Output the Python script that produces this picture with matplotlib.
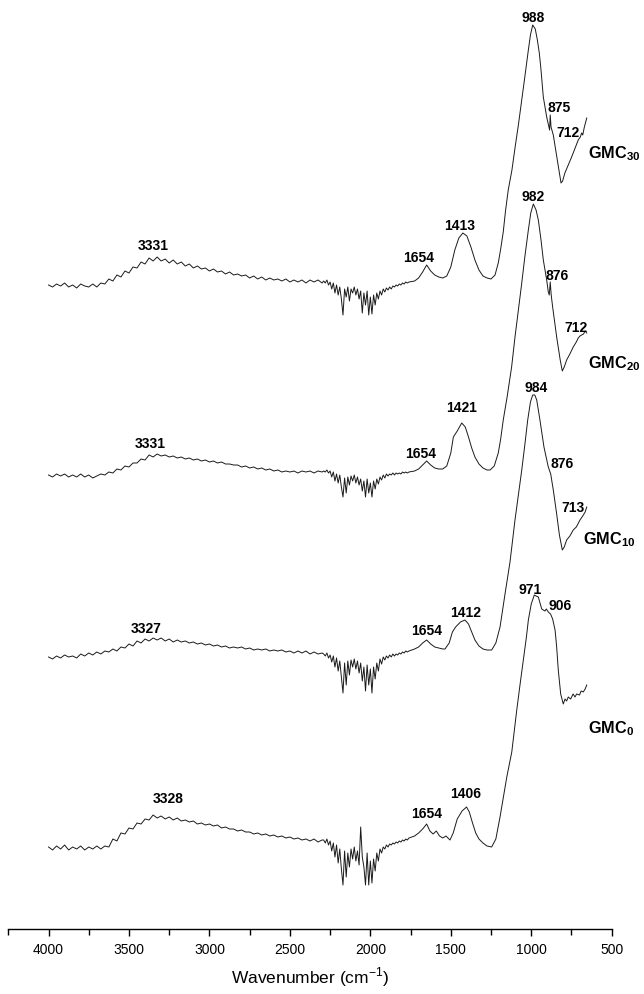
import numpy as np
import matplotlib.pyplot as plt

plt.rcParams['font.family'] = ['Liberation Sans', 'DejaVu Sans']
plt.rcParams['mathtext.fontset'] = 'custom'
plt.rcParams['mathtext.rm'] = 'Liberation Sans'
plt.rcParams['mathtext.bf'] = 'Liberation Sans:bold'

# wavenumber grids (cm-1) shared by all samples
wn_left = np.arange(4000, 2299, -25)   # broad O-H region
wn_dip = np.arange(2290, 1759, -10)    # noisy CO2 / diamond region

# GMC30 (values relative to its own baseline)
gmc30_left = [0, -2, 1, -1, 2, -2, 0, -3, 1, -1,
              -2, 1, -2, 2, 1, 6, 4, 10, 8, 14,
              12, 18, 17, 23, 21, 27, 24, 28, 24, 26,
              22, 25, 21, 23, 19, 21, 17, 19, 16, 17,
              14, 16, 13, 14, 11, 13, 10, 11, 9, 10,
              7, 9, 6, 8, 5, 7, 5, 6, 4, 6,
              3, 5, 3, 5, 2, 5, 3, 5, 2]
gmc30_dip = [4, 2, 5, 0, 3, -4, 2, -8, 0, -10,
             -2, -14, -30, -4, -12, -2, -16, -4, -8, -2,
             -10, -4, -14, -6, -28, -8, -20, -6, -30, -12,
             -29, -10, -20, -8, -14, -6, -10, -4, -7, -3,
             -5, -2, -4, -1, -2, 0, -1, 1, 0, 2,
             1, 3, 2, 3]
gmc30_wn = [1725, 1700, 1675, 1650, 1625, 1600, 1575, 1550, 1525, 1500,
            1475, 1450, 1425, 1400, 1375, 1350, 1325, 1300, 1275, 1250,
            1225, 1205, 1190, 1174, 1160, 1143, 1120, 1101, 1080, 1059,
            1040, 1018, 1005, 991, 975, 962, 950, 941, 925, 904,
            890, 886, 882, 877, 863, 838, 815, 805, 791, 770,
            749, 730, 708, 695, 687, 680, 670, 662, 655]
gmc30_right = [4, 7, 13, 20, 14, 10, 8, 7, 9, 18,
               35, 47, 52, 49, 38, 25, 15, 9, 7, 6,
               10, 22, 36, 53, 74, 95, 115, 137, 160, 185,
               208, 235, 250, 260, 256, 245, 232, 218, 188, 168,
               158, 155, 170, 158, 150, 125, 102, 104, 112, 120,
               128, 136, 145, 148, 152, 150, 158, 163, 167]

# GMC20
gmc20_left = [0, -2, 1, -1, 1, -2, 0, -2, 1, -2,
              0, -3, -1, 1, 0, 3, 2, 6, 5, 9,
              8, 12, 12, 16, 15, 20, 18, 21, 19, 20,
              18, 19, 17, 18, 16, 17, 15, 16, 14, 15,
              13, 14, 12, 13, 11, 11, 10, 10, 8, 9,
              7, 8, 6, 7, 5, 6, 4, 5, 3, 4,
              3, 4, 2, 4, 3, 4, 2, 4, 3]
gmc20_dip = [4, 3, 5, 2, 4, -2, 3, -6, 1, -8,
             0, -12, -22, -3, -18, -2, -10, -1, -6, 0,
             -8, -2, -10, -4, -16, -6, -22, -4, -18, -8,
             -22, -6, -14, -4, -9, -2, -5, 0, -3, 1,
             -1, 1, 0, 2, 0, 2, 1, 2, 1, 3,
             2, 3, 2, 3]
gmc20_wn = [1725, 1700, 1675, 1650, 1625, 1600, 1575, 1550, 1525, 1500,
            1484, 1460, 1432, 1410, 1390, 1370, 1350, 1325, 1300, 1275,
            1256, 1230, 1205, 1190, 1174, 1150, 1122, 1101, 1080, 1059,
            1040, 1018, 1003, 987, 970, 956, 940, 925, 904, 894,
            888, 882, 876, 867, 842, 820, 807, 795, 780, 760,
            739, 720, 708, 697, 687, 675, 665, 655]
gmc20_right = [4, 6, 10, 14, 10, 7, 6, 6, 9, 22,
               38, 44, 52, 48, 38, 27, 18, 11, 7, 5,
               5, 9, 22, 36, 55, 78, 108, 138, 165, 192,
               218, 245, 262, 271, 265, 255, 236, 215, 195, 183,
               180, 193, 180, 168, 138, 115, 104, 108, 115, 121,
               128, 133, 137, 139, 140, 141, 144, 142]

# GMC10
gmc10_left = [0, -2, 1, -1, 2, 0, 1, -1, 3, 1,
              4, 2, 5, 3, 6, 5, 8, 6, 10, 9,
              13, 11, 16, 14, 18, 16, 19, 17, 19, 16,
              18, 15, 17, 15, 16, 14, 15, 13, 14, 12,
              13, 11, 12, 10, 11, 9, 10, 9, 10, 8,
              9, 7, 8, 7, 8, 6, 7, 6, 7, 5,
              6, 4, 6, 4, 6, 3, 5, 3, 4]
gmc10_dip = [3, 1, 4, -1, 2, -5, 1, -10, -1, -14,
             -4, -20, -36, -6, -28, -4, -18, -3, -10, -2,
             -12, -4, -16, -6, -24, -10, -34, -8, -28, -12,
             -36, -10, -22, -6, -14, -2, -7, 0, -3, 1,
             -1, 2, 0, 3, 1, 3, 2, 4, 3, 5,
             4, 6, 5, 6]
gmc10_wn = [1725, 1700, 1675, 1650, 1625, 1600, 1575, 1550, 1536, 1510,
            1490, 1470, 1440, 1412, 1390, 1370, 1350, 1325, 1300, 1275,
            1246, 1220, 1194, 1163, 1132, 1101, 1080, 1059, 1040, 1022,
            1005, 991, 978, 966, 946, 921, 894, 879, 863, 842,
            825, 807, 795, 780, 760, 739, 720, 697, 680, 665,
            655]
gmc10_right = [8, 10, 14, 17, 13, 10, 9, 8, 8, 14,
               25, 30, 35, 37, 33, 25, 17, 11, 8, 7,
               7, 14, 30, 63, 95, 137, 162, 187, 212, 237,
               255, 262, 262, 257, 237, 210, 190, 183, 167, 143,
               122, 107, 110, 117, 121, 127, 130, 137, 141, 145,
               150]

# GMC0
gmc0_left = [0, -3, 1, -2, 2, -3, 0, -2, 1, -3,
             0, -2, 1, -2, 1, 0, 8, 6, 14, 13,
             19, 18, 24, 23, 28, 27, 32, 29, 31, 28,
             30, 27, 29, 26, 27, 25, 26, 23, 24, 22,
             23, 21, 22, 19, 20, 18, 18, 16, 17, 15,
             15, 13, 14, 12, 13, 11, 12, 10, 11, 9,
             10, 8, 9, 7, 8, 6, 8, 5, 7]
gmc0_dip = [7, 4, 8, 2, 6, -4, 4, -10, 2, -16,
            -2, -22, -38, -4, -30, -6, -20, -2, -12, 0,
            -14, -4, -18, 20, -10, -20, -38, -6, -38, -14,
            -36, -12, -24, -6, -14, -2, -6, 0, -2, 2,
            0, 3, 2, 4, 3, 5, 4, 6, 5, 7,
            6, 8, 7, 9]
gmc0_wn = [1725, 1700, 1675, 1650, 1630, 1610, 1590, 1570, 1550, 1530,
           1505, 1485, 1460, 1430, 1402, 1385, 1365, 1345, 1325, 1300,
           1275, 1246, 1220, 1194, 1152, 1121, 1090, 1070, 1049, 1030,
           1018, 1000, 981, 970, 956, 935, 915, 906, 894, 880,
           867, 852, 842, 832, 817, 801, 790, 780, 770, 755,
           740, 728, 718, 700, 690, 677, 665, 655]
gmc0_right = [11, 14, 18, 23, 16, 13, 16, 11, 9, 11,
              7, 14, 28, 36, 40, 35, 24, 14, 8, 4,
              1, 0, 8, 30, 70, 95, 137, 162, 187, 210,
              227, 243, 252, 251, 250, 238, 236, 238, 235, 233,
              228, 217, 200, 177, 153, 143, 148, 146, 150, 148,
              153, 150, 153, 152, 156, 155, 158, 162]

samples = ['30', '20', '10', '0']
lefts = [gmc30_left, gmc20_left, gmc10_left, gmc0_left]
dips = [gmc30_dip, gmc20_dip, gmc10_dip, gmc0_dip]
right_wns = [gmc30_wn, gmc20_wn, gmc10_wn, gmc0_wn]
rights = [gmc30_right, gmc20_right, gmc10_right, gmc0_right]
offsets = [644, 454, 272, 82]

# band labels: text, wavenumber, height
band_txt = [['3331', '1654', '1413', '988', '875', '712'],
            ['3331', '1654', '1421', '982', '876', '712'],
            ['3327', '1654', '1412', '984', '876', '713'],
            ['3328', '1654', '1406', '971', '906']]
band_wn = [[3349, 1698, 1443, 991, 826, 770],
           [3369, 1689, 1432, 991, 842, 722],
           [3395, 1650, 1407, 970, 811, 739],
           [3255, 1650, 1407, 1008, 821]]
band_y = [[679, 667, 699, 907, 817, 792],
          [481, 471, 517, 728, 649, 597],
          [296, 294, 312, 537, 461, 417],
          [126, 111, 131, 335, 319]]
name_wn = [649, 649, 680, 649]
name_y = [771, 561, 385, 196]

fig = plt.figure(figsize=(6.44, 9.94), dpi=100)
ax = fig.add_axes([8.3/644, 65/994, 603.4/644, 929/994])

for i in range(4):
    x = np.concatenate([wn_left, wn_dip, right_wns[i]])
    y = np.concatenate([lefts[i], dips[i], rights[i]]) + offsets[i]
    ax.plot(x, y, color='#1a1a1a', lw=0.7)
    for t, w, h in zip(band_txt[i], band_wn[i], band_y[i]):
        ax.text(w, h, t, ha='center', va='baseline', fontsize=10,
                fontweight='bold')
    ax.text(name_wn[i], name_y[i],
            r'$\mathbf{GMC}_{\mathbf{' + samples[i] + '}}$',
            ha='left', va='baseline', fontsize=11.7)

ax.set_xlim(4250, 500)
ax.set_ylim(0, 929)
ax.set_xticks(np.arange(4000, 499, -500))
ax.set_xticks(np.arange(4250, 499, -250), minor=True)
ax.set_yticks([])
for s in ['left', 'right', 'top']:
    ax.spines[s].set_visible(False)
ax.spines['bottom'].set_linewidth(1.0)
ax.tick_params(axis='x', which='major', direction='out', length=5,
               width=1.0, labelsize=10, pad=5)
ax.tick_params(axis='x', which='minor', direction='out', length=4,
               width=1.0)
ax.set_xlabel('Wavenumber (cm$^{-1}$)', fontsize=12.5, labelpad=6)

fig.savefig('out.png', dpi=100)
